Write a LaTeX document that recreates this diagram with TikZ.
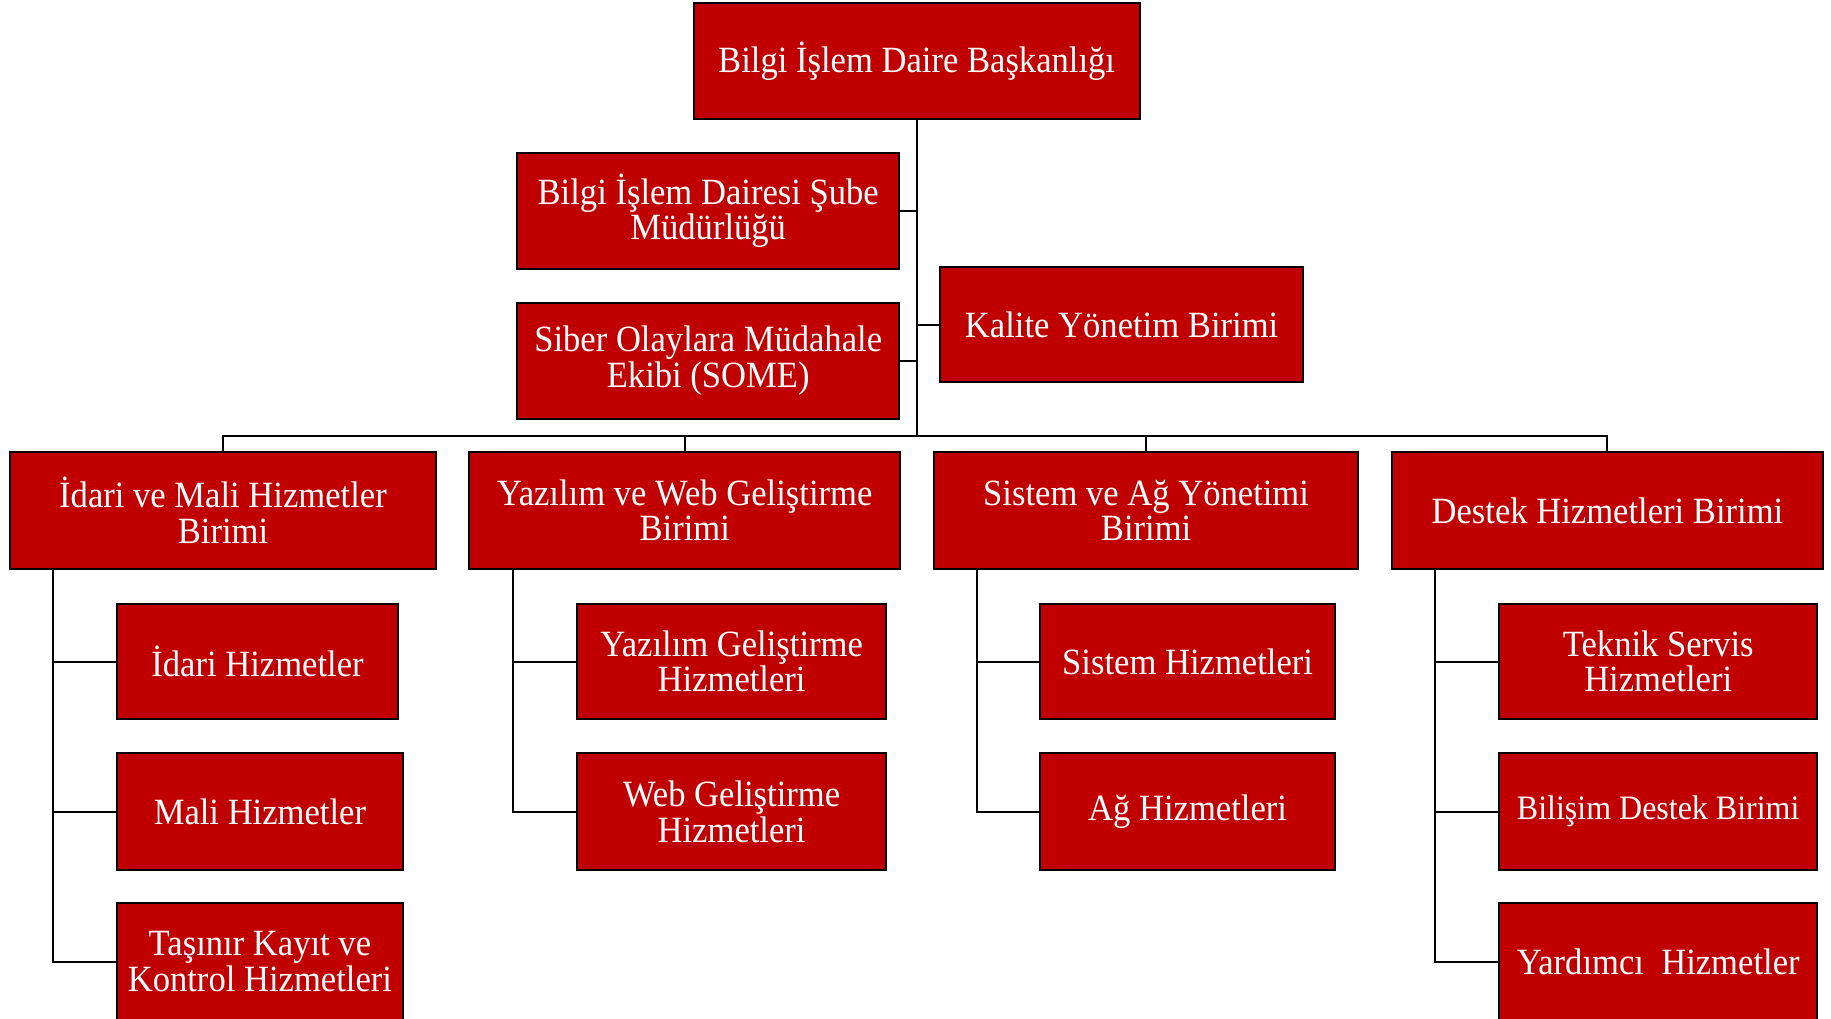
\documentclass[tikz,border=0pt]{standalone}
\usepackage{fontspec}
\setmainfont{Liberation Serif}[FakeStretch=0.935]
\definecolor{boxred}{RGB}{192,0,0}
\begin{document}
\begin{tikzpicture}[x=1pt,y=-1pt,
  box/.style={draw=black,line width=2pt,fill=boxred,text=white,align=center,
    inner sep=0pt,font=\fontsize{37}{35.5}\selectfont},
  smalltext/.style={font=\fontsize{34.2}{35.5}\selectfont},
  conn/.style={draw=black,line width=2pt}]
\useasboundingbox (0,0) rectangle (1831,1019);
% level 0
\node[box,minimum width=446,minimum height=115.6] (top) at (916.6,61.3) {Bilgi İşlem Daire Başkanlığı};
% staff boxes
\node[box,minimum width=381.8,minimum height=115.6] (sube) at (708.2,210.8) {Bilgi İşlem Dairesi Şube\\Müdürlüğü};
\node[box,minimum width=381.8,minimum height=115.6] (some) at (708.2,360.8) {Siber Olaylara Müdahale\\Ekibi (SOME)};
\node[box,minimum width=363.2,minimum height=115.6] (kalite) at (1121.6,324.6) {Kalite Yönetim Birimi};
% level 2
\node[box,minimum width=425.1,minimum height=116.8] (idm) at (223,510.4) {İdari ve Mali Hizmetler\\Birimi};
\node[box,minimum width=430.9,minimum height=116.8] (yw) at (684.8,510.4) {Yazılım ve Web Geliştirme\\Birimi};
\node[box,minimum width=423.8,minimum height=116.8] (sa) at (1146.1,510.4) {Sistem ve Ağ Yönetimi\\Birimi};
\node[box,minimum width=430.8,minimum height=116.8] (dh) at (1607.4,510.4) {Destek Hizmetleri Birimi};
% level 3 - column A
\node[box,minimum width=281.4,minimum height=115.6] (ih) at (257.5,661.5) {İdari Hizmetler};
\node[box,minimum width=286.1,minimum height=116.8] (mh) at (259.9,811.6) {Mali Hizmetler};
\node[box,minimum width=286.1,minimum height=116.8] (tk) at (259.9,961.6) {Taşınır Kayıt ve\\Kontrol Hizmetleri};
% column B
\node[box,minimum width=309.5,minimum height=115.6] (yg) at (731.6,661.5) {Yazılım Geliştirme\\Hizmetleri};
\node[box,minimum width=309.5,minimum height=116.8] (wg) at (731.6,811.6) {Web Geliştirme\\Hizmetleri};
% column C
\node[box,minimum width=294.3,minimum height=115.6] (sh) at (1187.6,661.5) {Sistem Hizmetleri};
\node[box,minimum width=294.3,minimum height=116.8] (ah) at (1187.6,811.6) {Ağ Hizmetleri};
% column D
\node[box,minimum width=317.7,minimum height=115.6] (ts) at (1658.2,661.5) {Teknik Servis\\Hizmetleri};
\node[box,smalltext,minimum width=317.7,minimum height=116.8] (bd) at (1658.2,811.6) {Bilişim Destek Birimi};
\node[box,minimum width=317.7,minimum height=116.8] (yh) at (1658.2,961.6) {Yardımcı~ Hizmetler};
% coordinates
\coordinate (bus) at (916.6,436);
\coordinate (ca) at (52.5,569.8);
\coordinate (cb) at (512.6,569.8);
\coordinate (cc) at (977.4,569.8);
\coordinate (cd) at (1435.1,569.8);
% connectors
\draw[conn] (top.south) -- (bus);
\draw[conn] (top.south |- sube.east) -- (sube.east);
\draw[conn] (top.south |- some.east) -- (some.east);
\draw[conn] (top.south |- kalite.west) -- (kalite.west);
\draw[conn] (bus) -| (idm.north);
\draw[conn] (bus) -| (yw.north);
\draw[conn] (bus) -| (sa.north);
\draw[conn] (bus) -| (dh.north);
\draw[conn] (ca) |- (ih.west);
\draw[conn] (ca) |- (mh.west);
\draw[conn] (ca) |- (tk.west);
\draw[conn] (cb) |- (yg.west);
\draw[conn] (cb) |- (wg.west);
\draw[conn] (cc) |- (sh.west);
\draw[conn] (cc) |- (ah.west);
\draw[conn] (cd) |- (ts.west);
\draw[conn] (cd) |- (bd.west);
\draw[conn] (cd) |- (yh.west);
\end{tikzpicture}
\end{document}
